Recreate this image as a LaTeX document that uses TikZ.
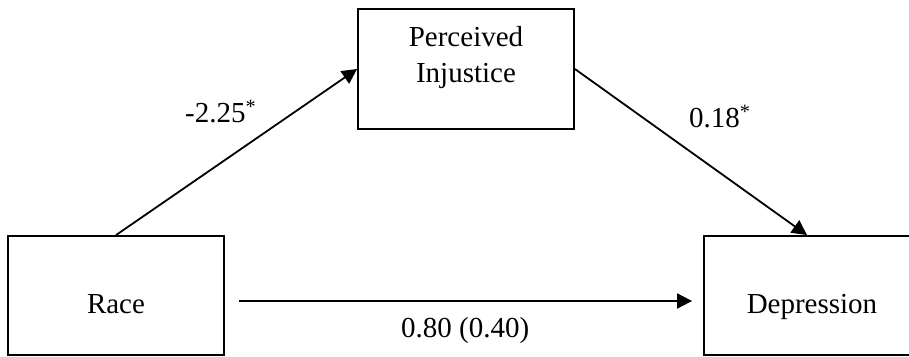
\documentclass[tikz,border=0pt]{standalone}
\usepackage{fontspec}
\setmainfont{Liberation Serif}
\usepackage{tikz}
\usetikzlibrary{arrows.meta,positioning}

\tikzset{
  varbox/.style={draw=black,line width=1.8pt,fill=white,minimum width=216pt,inner sep=0pt,align=center,font=\fontsize{29}{36}\selectfont},
  pathlbl/.style={inner sep=0pt,font=\fontsize{29}{36}\selectfont},
  patharrow/.style={-{Triangle[length=15pt,width=15pt]},line width=1.8pt}
}

\begin{document}
\begin{tikzpicture}[x=1pt,y=1pt]
  \useasboundingbox (0,0) rectangle (909,356);
  \node[varbox,text height=77pt,text depth=42pt] (race) at (116,60.5) {Race};
  \node[varbox,text height=74pt,text depth=46pt] (injustice) at (466,287) {Perceived\\Injustice};
  \node[varbox,text height=77pt,text depth=42pt] (depr) at (812,60.5) {Depression};
  \draw[patharrow] (race.north) -- (injustice.west);
  \draw[patharrow] (injustice.east) -- ([xshift=-5pt]depr.north);
  \draw[patharrow] ([xshift=14pt,yshift=-5.5pt]race.east) -- ([xshift=-11pt,yshift=-5.5pt]depr.west);
  \node[pathlbl,anchor=base west] (lblA) at (185,233) {-2.25\textsuperscript{*}};
  \node[pathlbl,anchor=base west] (lblB) at (689,228) {0.18\textsuperscript{*}};
  \node[pathlbl,anchor=base west] (lblC) at (401,19) {0.80 (0.40)};
\end{tikzpicture}
\end{document}
